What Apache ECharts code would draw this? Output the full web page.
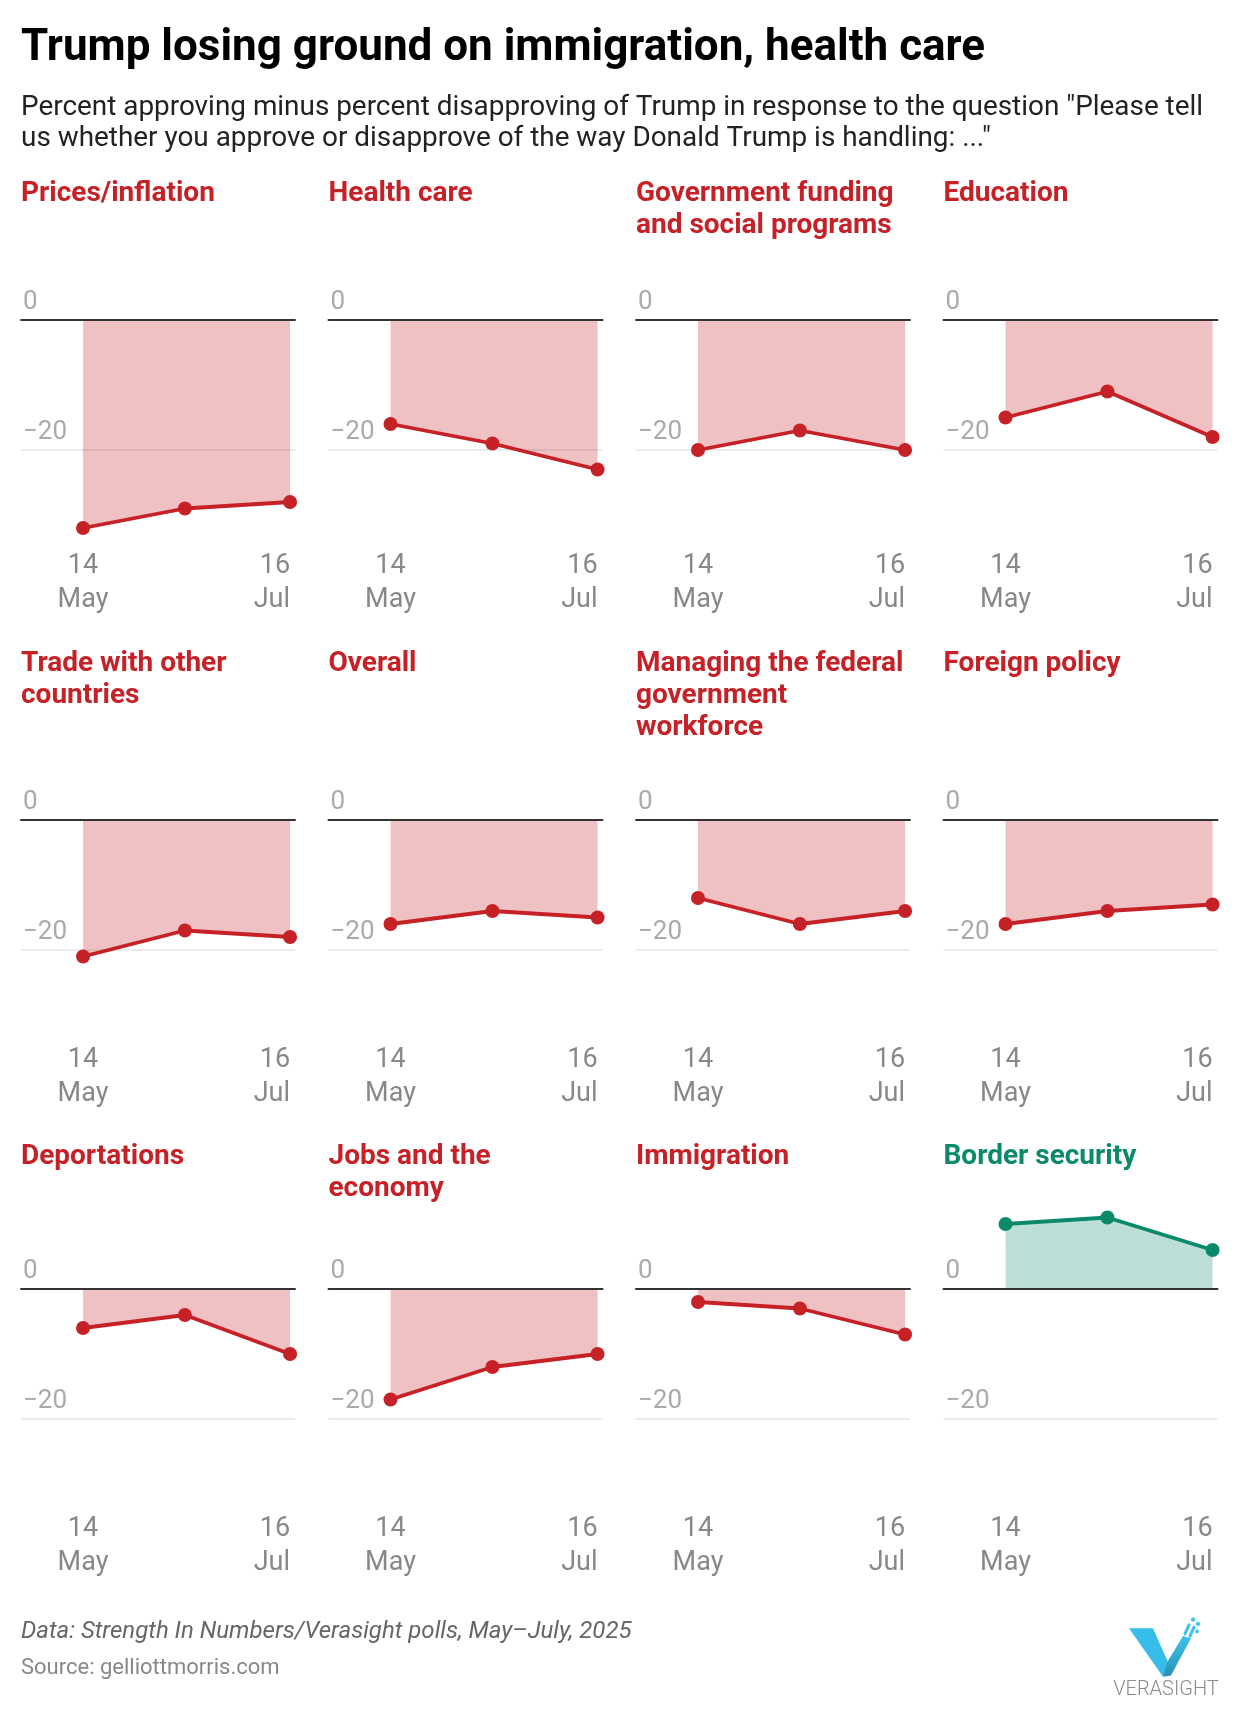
<!DOCTYPE html>
<html>
<head>
<meta charset="utf-8">
<script src="https://cdn.jsdelivr.net/npm/echarts@6/dist/echarts.min.js"></script>
<style>
html,body{margin:0;padding:0;background:#ffffff;}
#chart{width:1240px;height:1716px;}
</style>
</head>
<body>
<div id="chart"></div>
<script>
// ---------------- DATA ----------------
const pollDates = ['2025-05-14', '2025-06-14', '2025-07-16'];
const axisStart = '2025-04-25 03:00';
const axisEnd = '2025-07-17 12:00';
const topics = [
  'Prices/inflation', 'Health care', 'Government funding\nand social programs', 'Education',
  'Trade with other\ncountries', 'Overall', 'Managing the federal\ngovernment\nworkforce', 'Foreign policy',
  'Deportations', 'Jobs and the\neconomy', 'Immigration', 'Border security'
];
const pricesInflation   = [-32, -29, -28];
const healthCare        = [-16, -19, -23];
const governmentFunding = [-20, -17, -20];
const education         = [-15, -11, -18];
const tradeCountries    = [-21, -17, -18];
const overall           = [-16, -14, -15];
const federalWorkforce  = [-12, -16, -14];
const foreignPolicy     = [-16, -14, -13];
const deportations      = [-6, -4, -10];
const jobsEconomy       = [-17, -12, -10];
const immigration       = [-2, -3, -7];
const borderSecurity    = [10, 11, 6];
const xTickDates = ['2025-05-14', '2025-07-16'];
const xTickLabels = ['14\nMay', '16\nJul'];
const yTickValues = [0, -20];
const yTickLabels = ['0', '\u221220'];

const allValues = [pricesInflation, healthCare, governmentFunding, education,
  tradeCountries, overall, federalWorkforce, foreignPolicy,
  deportations, jobsEconomy, immigration, borderSecurity];

// ---------------- STYLE / LAYOUT ----------------
const FONT = 'Roboto, "Noto Sans", sans-serif';
const RED = '#c62127', RED_FILL = 'rgba(198,33,39,0.40)';
const GREEN = '#0b8a6b', GREEN_FILL = 'rgba(11,138,107,0.39)';
const colLeft = [21, 328.5, 636, 943.5];
const panelWidth = 274;
const rowZero = [320, 820, 1289];
const rowTitleTop = [178, 648, 1141];
const rowLabelMargin = [-31, -37, -37];
const pxPerUnit = 6.5;
const yMin = -40, yMax = 20;

const ts = s => echarts.time.parse(s).getTime();
const xTickTs = xTickDates.map(ts);

const grids = [], xAxes = [], yAxes = [], series = [];
const titles = [
  { text: 'Trump losing ground on immigration, health care', left: 21, top: 27, padding: 0,
    textStyle: { fontFamily: FONT, fontWeight: 'bold', fontSize: 44, lineHeight: 44, color: '#000' } },
  { text: 'Percent approving minus percent disapproving of Trump in response to the question "Please tell\nus whether you approve or disapprove of the way Donald Trump is handling: ..."',
    left: 21, top: 93, padding: 0,
    textStyle: { fontFamily: FONT, fontWeight: 'normal', fontSize: 27.9, lineHeight: 31, color: '#222' } }
];

allValues.forEach((vals, i) => {
  const row = Math.floor(i / 4), col = i % 4;
  const zero = rowZero[row];
  const positive = vals.reduce((a, b) => a + b, 0) > 0;
  const lineColor = positive ? GREEN : RED;
  const fillColor = positive ? GREEN_FILL : RED_FILL;
  grids.push({ left: colLeft[col], width: panelWidth, top: zero - yMax * pxPerUnit,
    height: (yMax - yMin) * pxPerUnit, containLabel: false });
  xAxes.push({
    type: 'value', gridIndex: i, min: ts(axisStart), max: ts(axisEnd), z: 3,
    axisLine: { show: true, onZero: true, lineStyle: { color: '#333', width: 2 } },
    axisTick: { show: false }, splitLine: { show: false },
    axisLabel: {
      customValues: xTickTs, margin: rowLabelMargin[row], alignMaxLabel: 'right',
      formatter: v => { const k = xTickTs.indexOf(v); return k >= 0 ? xTickLabels[k] : ''; },
      fontFamily: FONT, fontSize: 27, lineHeight: 34, color: '#888'
    }
  });
  yAxes.push({
    type: 'value', gridIndex: i, min: yMin, max: yMax, interval: 20,
    axisLine: { show: false }, axisTick: { show: false },
    splitLine: { show: true, showMinLine: false, showMaxLine: false, lineStyle: { color: '#e4e4e4', width: 1.5 } },
    axisLabel: {
      inside: true, margin: 2, showMinLabel: false, showMaxLabel: false,
      verticalAlign: 'bottom', padding: [0, 0, 5, 0],
      formatter: v => { const k = yTickValues.indexOf(v); return k >= 0 ? yTickLabels[k] : ''; },
      fontFamily: FONT, fontSize: 26, color: '#aaa'
    }
  });
  series.push({
    type: 'line', xAxisIndex: i, yAxisIndex: i,
    data: pollDates.map((d, k) => [ts(d), vals[k]]),
    symbol: 'circle', symbolSize: 14, showSymbol: true,
    lineStyle: { color: lineColor, width: 3.8 },
    itemStyle: { color: lineColor },
    areaStyle: { color: fillColor, origin: 0 },
    animation: false, silent: true
  });
  titles.push({
    text: topics[i], left: colLeft[col], top: rowTitleTop[row], padding: 0,
    textStyle: { fontFamily: FONT, fontWeight: 'bold', fontSize: 28, lineHeight: 32, color: lineColor }
  });
});

const chart = echarts.init(document.getElementById('chart'), null, { renderer: 'canvas' });
chart.setOption({
  backgroundColor: '#ffffff',
  animation: false,
  title: titles,
  grid: grids,
  xAxis: xAxes,
  yAxis: yAxes,
  series: series,
  graphic: [
    { type: 'text', left: 21, top: 1620,
      style: { text: 'Data: Strength In Numbers/Verasight polls, May\u2013July, 2025', fontFamily: FONT,
        fontStyle: 'italic', fontSize: 24, fill: '#666' } },
    { type: 'text', left: 21, top: 1657,
      style: { text: 'Source: gelliottmorris.com', fontFamily: FONT, fontSize: 22, fill: '#888' } },
    { type: 'group', x: 1127, y: 1614, scaleX: 1.0, scaleY: 1.1, children: [
      { type: 'polygon', shape: { points: [[2, 13], [26, 13], [42, 46], [36, 57]] },
        style: { fill: '#36bde9' } },
      { type: 'polygon', shape: { points: [[36, 57], [40, 44], [56, 20], [64, 22], [44, 56]] },
        style: { fill: new echarts.graphic.LinearGradient(0, 1, 0, 0, [
          { offset: 0, color: '#2a8fb5' }, { offset: 1, color: '#3ec3ec' }]) } },
      { type: 'line', shape: { x1: 58, y1: 18, x2: 62, y2: 10 }, style: { stroke: '#3ec3ec', lineWidth: 3, lineCap: 'round' } },
      { type: 'line', shape: { x1: 63, y1: 20, x2: 67, y2: 12 }, style: { stroke: '#3ec3ec', lineWidth: 3, lineCap: 'round' } },
      { type: 'circle', shape: { cx: 66, cy: 5, r: 2 }, style: { fill: '#3ec3ec' } },
      { type: 'circle', shape: { cx: 71, cy: 9, r: 2 }, style: { fill: '#3ec3ec' } },
      { type: 'circle', shape: { cx: 70, cy: 16, r: 1.8 }, style: { fill: '#3ec3ec' } }
    ] },
    { type: 'text', x: 1166, y: 1680,
      style: { text: 'VERASIGHT', align: 'center', fontFamily: FONT, fontSize: 20, fontWeight: 300, fill: '#8a8a8a' } }
  ]
});
</script>
</body>
</html>
